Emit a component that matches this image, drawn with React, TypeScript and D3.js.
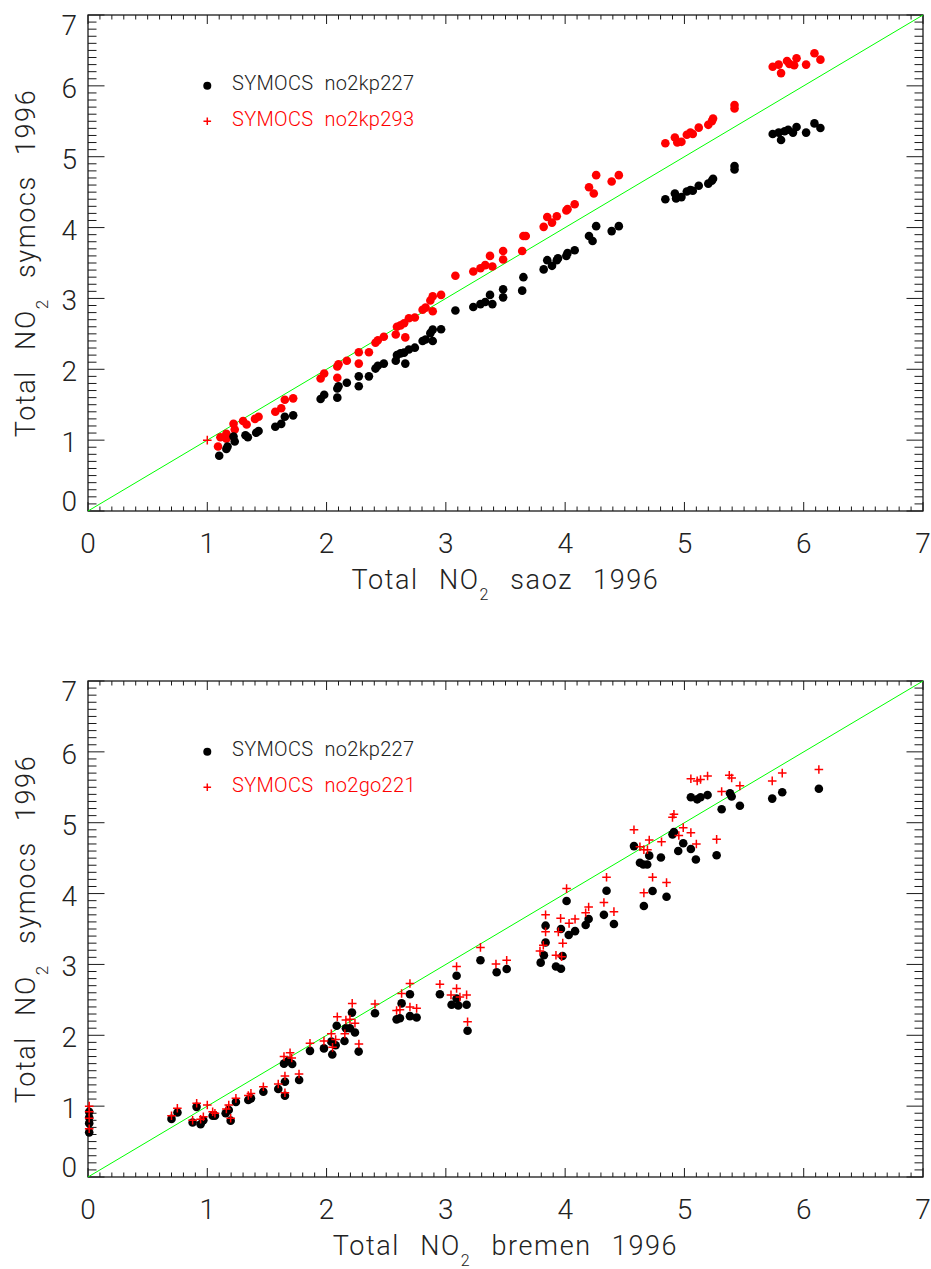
import React from "react";
import * as d3 from "d3";

// ---------- data ----------
const axisTicks = [0, 1, 2, 3, 4, 5, 6, 7];

const topBlack: [number, number][] = [
  [1.10,0.78],[1.16,0.875],[1.17,0.91],[1.23,0.98],[1.22,1.05],[1.32,1.07],[1.34,1.04],[1.41,1.105],[1.43,1.13],
  [1.57,1.19],[1.62,1.23],[1.65,1.33],[1.72,1.35],[1.95,1.58],[1.98,1.64],[2.09,1.60],[2.09,1.73],[2.10,1.76],
  [2.17,1.81],[2.27,1.76],[2.27,1.90],[2.355,1.90],[2.41,2.01],[2.43,2.05],[2.48,2.08],[2.58,2.12],[2.59,2.20],
  [2.62,2.225],[2.65,2.235],[2.66,2.08],[2.69,2.28],[2.74,2.305],[2.805,2.40],[2.83,2.42],[2.87,2.51],[2.89,2.56],
  [2.89,2.40],[2.96,2.565],[3.08,2.83],[3.23,2.88],[3.29,2.92],[3.33,2.95],[3.37,3.05],[3.39,2.92],[3.48,3.13],
  [3.48,3.015],[3.64,3.11],[3.65,3.30],[3.82,3.41],[3.85,3.54],[3.89,3.46],[3.93,3.54],[3.94,3.565],[4.01,3.60],
  [4.02,3.64],[4.08,3.68],[4.20,3.88],[4.23,3.81],[4.26,4.02],[4.39,3.95],[4.45,4.02],[4.84,4.40],[4.92,4.48],
  [4.93,4.41],[4.975,4.43],[5.02,4.51],[5.05,4.53],[5.07,4.52],[5.12,4.59],[5.20,4.62],[5.23,4.66],[5.24,4.69],
  [5.42,4.87],[5.42,4.82],[5.74,5.32],[5.79,5.34],[5.81,5.235],[5.84,5.36],[5.87,5.38],[5.91,5.34],[5.94,5.42],
  [6.02,5.34],[6.09,5.47],[6.14,5.405]
];

const topRed: [number, number][] = [
  [1.09,0.91],[1.11,1.04],[1.16,1.09],[1.16,1.02],[1.22,1.23],[1.23,1.15],[1.30,1.27],[1.33,1.22],[1.40,1.30],
  [1.43,1.33],[1.57,1.40],[1.62,1.45],[1.65,1.57],[1.72,1.59],[1.95,1.87],[1.98,1.94],[2.09,1.88],[2.09,2.04],
  [2.10,2.07],[2.17,2.12],[2.27,2.08],[2.27,2.24],[2.355,2.24],[2.41,2.375],[2.43,2.41],[2.48,2.46],[2.58,2.49],
  [2.59,2.60],[2.62,2.62],[2.65,2.65],[2.66,2.45],[2.69,2.72],[2.74,2.73],[2.805,2.84],[2.83,2.87],[2.87,2.97],
  [2.89,3.03],[2.89,2.82],[2.96,3.05],[3.08,3.32],[3.23,3.38],[3.29,3.425],[3.33,3.47],[3.37,3.60],[3.39,3.45],
  [3.48,3.67],[3.48,3.55],[3.64,3.67],[3.65,3.88],[3.67,3.88],[3.82,4.01],[3.85,4.15],[3.89,4.07],[3.93,4.16],
  [4.01,4.24],[4.02,4.26],[4.08,4.33],[4.20,4.57],[4.24,4.48],[4.26,4.74],[4.39,4.65],[4.45,4.74],[4.84,5.19],
  [4.92,5.27],[4.94,5.20],[4.975,5.21],[5.02,5.31],[5.05,5.34],[5.07,5.32],[5.12,5.41],[5.20,5.45],[5.23,5.50],
  [5.24,5.54],[5.42,5.73],[5.42,5.68],[5.74,6.27],[5.79,6.30],[5.81,6.18],[5.86,6.35],[5.88,6.31],[5.92,6.29],
  [5.94,6.39],[6.02,6.30],[6.09,6.46],[6.14,6.37]
];

const topRedPlus: [number, number][] = [[1.0, 1.0]];

const bottomBlack: [number, number][] = [
  [0.01,0.92],[0.01,0.84],[0.01,0.76],[0.01,0.63],
  [0.70,0.82],[0.75,0.91],[0.877,0.77],[0.91,0.99],[0.944,0.745],[0.967,0.80],[1.045,0.865],[1.064,0.865],
  [1.154,0.90],[1.18,0.945],[1.196,0.795],[1.24,1.058],[1.344,1.087],[1.366,1.11],[1.47,1.204],[1.595,1.242],
  [1.651,1.345],[1.651,1.147],[1.643,1.60],[1.68,1.64],[1.712,1.595],[1.77,1.369],[1.861,1.78],[1.978,1.815],
  [2.048,1.73],[2.04,1.91],[2.076,1.86],[2.085,2.135],[2.15,1.92],[2.162,2.10],[2.196,2.10],[2.213,2.32],
  [2.238,2.04],[2.269,1.77],[2.406,2.31],[2.587,2.225],[2.615,2.24],[2.629,2.45],[2.699,2.27],[2.699,2.58],
  [2.755,2.25],[2.95,2.58],[3.048,2.43],[3.09,2.84],[3.09,2.52],[3.104,2.42],[3.174,2.43],[3.182,2.065],
  [3.29,3.06],[3.426,2.89],[3.51,2.935],[3.795,3.025],[3.822,3.13],[3.836,3.31],[3.836,3.547],[3.923,2.97],
  [3.965,2.94],[3.978,3.12],[3.965,3.50],[4.03,3.415],[4.083,3.47],[4.172,3.556],[4.197,3.64],[4.012,3.895],
  [4.325,3.70],[4.347,4.04],[4.409,3.57],[4.66,3.825],[4.733,4.036],[4.85,3.956],[4.577,4.67],[4.627,4.436],
  [4.655,4.41],[4.688,4.41],[4.705,4.535],[4.803,4.51],[4.90,4.836],[4.912,4.87],[4.948,4.60],[4.99,4.71],
  [5.054,4.63],[5.096,4.48],[5.27,4.54],[5.054,5.36],[5.107,5.33],[5.135,5.36],[5.194,5.39],[5.312,5.19],
  [5.382,5.415],[5.396,5.37],[5.465,5.24],[5.736,5.34],[5.82,5.43],[6.127,5.48]
];

const bottomRed: [number, number][] = [
  [0.01,1.0],[0.01,0.92],[0.01,0.83],[0.01,0.68],
  [0.70,0.865],[0.749,0.97],[0.877,0.80],[0.911,1.04],[0.944,0.815],[0.967,0.85],[1.0,1.016],[1.045,0.92],
  [1.064,0.90],[1.16,0.96],[1.18,1.016],[1.196,0.83],[1.24,1.11],[1.344,1.15],[1.366,1.18],[1.47,1.274],
  [1.595,1.312],[1.651,1.425],[1.651,1.19],[1.643,1.70],[1.694,1.754],[1.708,1.68],[1.769,1.454],[1.861,1.887],
  [1.978,1.92],[2.04,2.02],[2.05,1.83],[2.076,1.94],[2.09,2.26],[2.153,2.02],[2.162,2.215],[2.196,2.225],
  [2.215,2.45],[2.238,2.17],[2.271,1.877],[2.406,2.44],[2.587,2.35],[2.615,2.36],[2.629,2.59],[2.699,2.40],
  [2.699,2.73],[2.755,2.38],[2.95,2.72],[3.043,2.57],[3.09,2.66],[3.09,2.97],[3.118,2.54],[3.174,2.57],
  [3.182,2.19],[3.29,3.24],[3.42,3.006],[3.51,3.06],[3.789,3.19],[3.817,3.27],[3.836,3.46],[3.836,3.70],
  [3.923,3.13],[3.97,3.11],[3.98,3.30],[3.962,3.65],[3.943,3.46],[4.033,3.58],[4.083,3.64],[4.172,3.73],
  [4.197,3.81],[4.012,4.07],[4.325,3.875],[4.347,4.23],[4.409,3.745],[4.66,4.01],[4.733,4.23],[4.85,4.155],
  [4.577,4.90],[4.627,4.66],[4.66,4.62],[4.69,4.62],[4.705,4.755],[4.808,4.73],[4.90,5.076],[4.912,5.12],
  [4.953,4.82],[4.99,4.93],[5.054,4.86],[5.10,4.70],[5.27,4.765],[5.054,5.62],[5.107,5.59],[5.135,5.61],
  [5.194,5.66],[5.312,5.44],[5.376,5.67],[5.396,5.63],[5.465,5.52],[5.736,5.59],[5.82,5.70],[6.127,5.75]
];

const identityLine: [number, number][] = [[0, 0], [7, 7]];

const topLegend = ["SYMOCS no2kp227", "SYMOCS no2kp293"];
const bottomLegend = ["SYMOCS no2kp227", "SYMOCS no2go221"];
const legendPos: [number, number][] = [[1.0, 6.0], [1.0, 5.5]];

// ---------- layout ----------
const W = 931;
const H = 1269;
const FONT = "Roboto, 'DejaVu Sans', Arial, sans-serif";
const AX = "#1a1a1a";

type PanelProps = {
  top: number;
  bottom: number;
  black: [number, number][];
  redDots: [number, number][];
  redPlus: [number, number][];
  legend: string[];
  xTitle: string;
};

function Plus({ x, y, s = 4.3 }: { x: number; y: number; s?: number }) {
  return (
    <path
      d={`M${x - s},${y}H${x + s}M${x},${y - s}V${y + s}`}
      stroke="#ff0000"
      strokeWidth={1.5}
      fill="none"
    />
  );
}

function Panel({ top, bottom, black, redDots, redPlus, legend, xTitle }: PanelProps) {
  const x = d3.scaleLinear().domain([0, 7]).range([88, 923]);
  const y = d3.scaleLinear().domain([0, 7]).range([bottom, top]);
  const minor = d3.range(0, 70).map((i) => i / 10).filter((v) => Math.abs(v - Math.round(v)) > 1e-6);
  const line = d3.line<[number, number]>().x((d) => x(d[0])).y((d) => y(d[1]));
  const xl = x(0), xr = x(7), yt = y(7), yb = y(0);
  const midY = (yt + yb) / 2;
  const midX = (xl + xr) / 2;

  return (
    <g>
      {/* ticks */}
      <g stroke={AX} strokeWidth={1}>
        {axisTicks.map((t) => (
          <g key={"mx" + t}>
            <line x1={x(t)} x2={x(t)} y1={yb} y2={yb - 9} />
            <line x1={x(t)} x2={x(t)} y1={yt} y2={yt + 9} />
            <line x1={xl} x2={xl + 16.5} y1={y(t)} y2={y(t)} />
            <line x1={xr} x2={xr - 16.5} y1={y(t)} y2={y(t)} />
          </g>
        ))}
        {minor.map((t) => (
          <g key={"mn" + t}>
            <line x1={x(t)} x2={x(t)} y1={yb} y2={yb - 4.5} />
            <line x1={x(t)} x2={x(t)} y1={yt} y2={yt + 4.5} />
            <line x1={xl} x2={xl + 8.5} y1={y(t)} y2={y(t)} />
            <line x1={xr} x2={xr - 8.5} y1={y(t)} y2={y(t)} />
          </g>
        ))}
      </g>
      <rect x={xl} y={yt} width={xr - xl} height={yb - yt} fill="none" stroke={AX} strokeWidth={1.3} />

      {/* tick labels */}
      <g fontFamily={FONT} fontWeight={300} fontSize={28} fill="#222">
        {axisTicks.map((t) => (
          <text key={"xl" + t} x={x(t)} y={yb + 42} textAnchor="middle">{t}</text>
        ))}
        {axisTicks.map((t) => {
          const dy = t === 0 ? 0 : t === 7 ? 20 : 12;
          return (
            <text key={"yl" + t} x={77} y={y(t) + dy} textAnchor="end">{t}</text>
          );
        })}
      </g>

      {/* axis titles */}
      <text x={midX} y={yb + 78} textAnchor="middle" fontFamily={FONT} fontWeight={300}
        fontSize={27} fill="#222" letterSpacing={1.6} wordSpacing={12}>
        Total NO<tspan fontSize={16} dy={11}>2</tspan><tspan dy={-11}> {xTitle}</tspan>
      </text>
      <text transform={`translate(35,${midY}) rotate(-90)`} textAnchor="middle" fontFamily={FONT}
        fontWeight={300} fontSize={27} fill="#222" letterSpacing={1.6} wordSpacing={12}>
        Total NO<tspan fontSize={17} dy={13}>2</tspan><tspan dy={-13}> symocs 1996</tspan>
      </text>

      {/* identity line */}
      <path d={line(identityLine) || ""} stroke="#00ff00" strokeWidth={1} fill="none" />

      {/* data */}
      <g fill="#ff0000">
        {redDots.map((d, i) => (
          <circle key={"r" + i} cx={x(d[0])} cy={y(d[1])} r={4.3} />
        ))}
      </g>
      <g fill="#000">
        {black.map((d, i) => (
          <circle key={"b" + i} cx={x(d[0])} cy={y(d[1])} r={4.3} />
        ))}
      </g>
      {redPlus.map((d, i) => (
        <Plus key={"p" + i} x={x(d[0])} y={y(d[1])} />
      ))}

      {/* legend */}
      <circle cx={x(legendPos[0][0])} cy={y(legendPos[0][1])} r={4} fill="#000" />
      <Plus x={x(legendPos[1][0])} y={y(legendPos[1][1])} s={3.8} />
      <g fontFamily={FONT} fontWeight={300} fontSize={20} wordSpacing={6} letterSpacing={0.3}>
        <text x={232} y={y(legendPos[0][1]) + 4.5} fill="#222">{legend[0]}</text>
        <text x={232} y={y(legendPos[1][1]) + 4.5} fill="#ff0000">{legend[1]}</text>
      </g>
    </g>
  );
}

export default function App() {
  return (
    <svg width={W} height={H} style={{ position: "absolute", left: 0, top: 0, background: "#fff" }}>
      <rect width={W} height={H} fill="#fff" />
      <Panel top={15} bottom={511} black={topBlack} redDots={topRed} redPlus={topRedPlus}
        legend={topLegend} xTitle="saoz 1996" />
      <Panel top={681} bottom={1177} black={bottomBlack} redDots={[]} redPlus={bottomRed}
        legend={bottomLegend} xTitle="bremen 1996" />
    </svg>
  );
}
